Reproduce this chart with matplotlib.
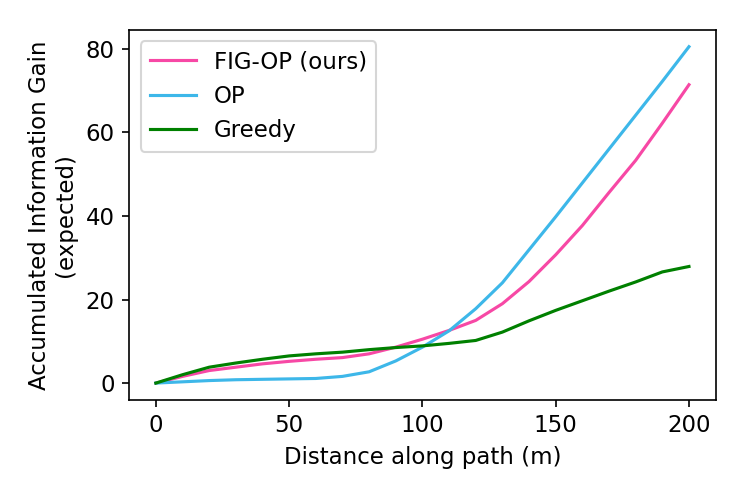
import matplotlib
matplotlib.use("Agg")
import matplotlib.pyplot as plt

distance = [0, 10, 20, 30, 40, 50, 60, 70, 80, 90, 100, 110, 120, 130, 140, 150, 160, 170, 180, 190, 200]
fig_op = [0, 1.6, 3.0, 3.8, 4.6, 5.2, 5.7, 6.1, 7.0, 8.6, 10.5, 12.6, 15.0, 19.0, 24.3, 30.7, 37.7, 45.6, 53.3, 62.2, 71.4]
op = [0, 0.3, 0.6, 0.8, 0.9, 1.0, 1.1, 1.6, 2.7, 5.3, 8.6, 12.5, 17.8, 24.0, 31.9, 39.8, 47.9, 56.0, 64.1, 72.2, 80.5]
greedy = [0, 2.0, 3.8, 4.8, 5.7, 6.5, 7.0, 7.4, 8.0, 8.5, 8.9, 9.5, 10.2, 12.2, 14.9, 17.4, 19.7, 22.0, 24.2, 26.6, 27.9]

fs = 11
fig = plt.figure(figsize=(4.98, 3.32), dpi=150)
ax = fig.add_axes([0.173, 0.197, 0.785, 0.743])
ax.plot(distance, fig_op, color="#F748A5", lw=1.5, label="FIG-OP (ours)")
ax.plot(distance, op, color="#3DB7E9", lw=1.5, label="OP")
ax.plot(distance, greedy, color="green", lw=1.5, label="Greedy")
ax.set_xticks([0, 50, 100, 150, 200])
ax.set_yticks([0, 20, 40, 60, 80])
ax.tick_params(labelsize=fs)
ax.set_xlabel("Distance along path (m)", fontsize=fs)
ax.set_ylabel("Accumulated Information Gain\n(expected)", fontsize=fs)
ax.legend(loc="upper left", fontsize=fs)
fig.savefig("out.png", dpi=150)
